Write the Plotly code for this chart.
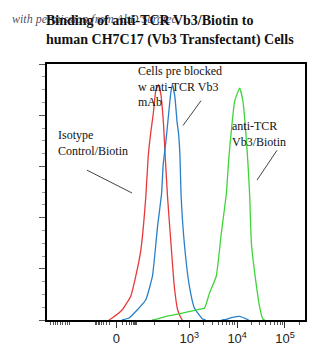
import numpy as np
import plotly.graph_objects as go

# Fluorescence axis is biexponential; x values below are positions on that
# display scale, in decades (3 = 10^3, 4 = 10^4, 5 = 10^5, ~1.47 = 0).
ZERO_POS = 1.47

# Histogram outlines (x: display position, y: % of max)
iso_x = [1.316, 1.385, 1.596, 1.773, 1.878, 1.983, 2.088, 2.137, 2.194, 2.242, 2.299, 2.354,
         2.404, 2.459, 2.495, 2.543, 2.615, 2.684, 2.754, 2.825, 2.853]
iso_y = [0.0, 0.8, 4.0, 9.3, 17.1, 27.2, 48.1, 63.6, 73.6, 80.2, 89.9, 91.9,
         88.0, 76.4, 63.6, 48.1, 29.8, 13.2, 4.0, 0.8, 0.0]

blk_x = [1.589, 1.737, 1.912, 2.088, 2.227, 2.333, 2.417, 2.453, 2.509, 2.564, 2.615, 2.648,
         2.699, 2.741, 2.775, 2.804, 2.825, 2.895, 3.000, 3.105, 3.274, 3.337]
blk_y = [0.0, 0.8, 4.0, 7.9, 17.1, 36.4, 49.2, 60.9, 69.8, 80.2, 89.3, 91.9,
         86.8, 77.6, 72.5, 63.6, 49.2, 29.8, 13.2, 4.7, 0.4, 0.0]

# Small event cluster of the blocked sample near 10^4
blk2_x = [3.674, 3.737, 3.905, 4.053, 4.194, 4.242]
blk2_y = [0.0, 0.1, 1.0, 1.4, 0.4, 0.0]

pos_x = [2.221, 2.333, 2.579, 2.789, 3.141, 3.316, 3.421, 3.562, 3.667, 3.773, 3.827, 3.878,
         3.947, 4.053, 4.122, 4.179, 4.227, 4.263, 4.299, 4.404, 4.474, 4.537, 4.579]
pos_y = [0.0, 0.4, 1.7, 2.4, 3.9, 4.7, 10.5, 17.1, 33.7, 49.2, 63.6, 73.8,
         85.4, 90.6, 85.4, 73.8, 60.9, 48.1, 29.8, 13.2, 4.7, 0.4, 0.0]

# Axis tick layout
major_x = [ZERO_POS, 3, 4, 5]
major_text = ["0", "10<sup>3</sup>", "10<sup>4</sup>", "10<sup>5</sup>"]
y_major = [0, 20, 40, 60, 80, 100]

# Minor x ticks: log-spaced between decades, mirrored around zero in the linear part
minor_x = []
for d in (3, 4):
    for k in range(2, 10):
        minor_x.append(d + np.log10(k))
for k in (2, 3, 4, 5):
    minor_x.append(5 + np.log10(k))
for k in range(2, 10):
    off = 0.45 * np.log10(k)
    minor_x.append(ZERO_POS - off)
    minor_x.append(ZERO_POS + off)
for k in range(1, 10):
    minor_x.append(0.05 + 0.05 * k)
for k in (1.5, 2.0, 2.5):
    minor_x.append(k + 0.28)

RED = "#e8393a"
BLUE = "#2a7fc9"
GREEN = "#3fd43a"

fig = go.Figure()
for xs, ys, col in [(iso_x, iso_y, RED), (blk_x, blk_y, BLUE), (blk2_x, blk2_y, BLUE), (pos_x, pos_y, GREEN)]:
    fig.add_trace(go.Scatter(x=xs, y=ys, mode="lines",
                             line=dict(color=col, width=1.3, shape="spline", smoothing=0.4),
                             hoverinfo="skip", showlegend=False))

# Plot area in pixels (used to place free text and pointer lines)
L, R, T, B = 47, 305, 64, 322
W, H = 331, 358

fig.update_layout(
    width=W, height=H,
    margin=dict(l=L, r=W - R, t=T, b=H - B),
    paper_bgcolor="white", plot_bgcolor="white",
    showlegend=False,
    xaxis=dict(range=[0.02, 5.42], tickmode="array", tickvals=major_x, ticktext=major_text,
               ticks="outside", ticklen=6, tickwidth=1, tickcolor="#333",
               showgrid=False, zeroline=False, showline=True, linecolor="black", linewidth=1.5, mirror=True,
               tickfont=dict(family="Liberation Sans", size=13, color="#222"),
               minor=dict(tickmode="array", tickvals=minor_x, ticks="outside", ticklen=3, tickcolor="#555"),
               fixedrange=True),
    yaxis=dict(range=[0, 100], tickmode="array", tickvals=y_major, showticklabels=False,
               ticks="outside", ticklen=6, tickcolor="#555",
               showgrid=False, zeroline=False, showline=True, linecolor="black", linewidth=1.5, mirror=True,
               minor=dict(dtick=5, ticks="outside", ticklen=3, tickcolor="#999"),
               fixedrange=True),
)


def fx(x):
    return (x - L) / (R - L)


def fy(y):
    return (B - y) / (B - T)


shapes = []


def seg(x0, y0, x1, y1):
    shapes.append(dict(type="line", xref="paper", yref="paper",
                       x0=fx(x0), x1=fx(x1), y0=fy(y0), y1=fy(y1),
                       line=dict(color="#444", width=1)))


seg(87, 171, 132, 194)
seg(201, 101, 183, 126)
seg(277, 151, 257, 181)
fig.update_layout(shapes=shapes)

SERIF = "Liberation Serif"


def text_at(text, x, y, size=12, color="#111"):
    fig.add_annotation(text=text, xref="paper", yref="paper", x=fx(x), y=fy(y),
                       showarrow=False, align="left", xanchor="left", yanchor="top",
                       font=dict(family=SERIF, size=size, color=color))


text_at("Cells pre blocked<br>w anti-TCR Vb3<br>mAb", 136, 62)
text_at("Isotype<br>Control/Biotin", 56, 126)
text_at("anti-TCR<br>Vb3/Biotin", 230, 117)

# Credit line sits underneath the title
text_at("<i>with permission from AbD Serotec</i>", 10, 10, size=12, color="rgba(55,55,85,0.9)")
text_at("<b>Binding of anti-TCR Vb3/Biotin to</b>", 44, 11, size=14)
text_at("<b>human CH7C17 (Vb3 Transfectant) Cells</b>", 44, 30, size=14)

fig.write_html("out.html")
